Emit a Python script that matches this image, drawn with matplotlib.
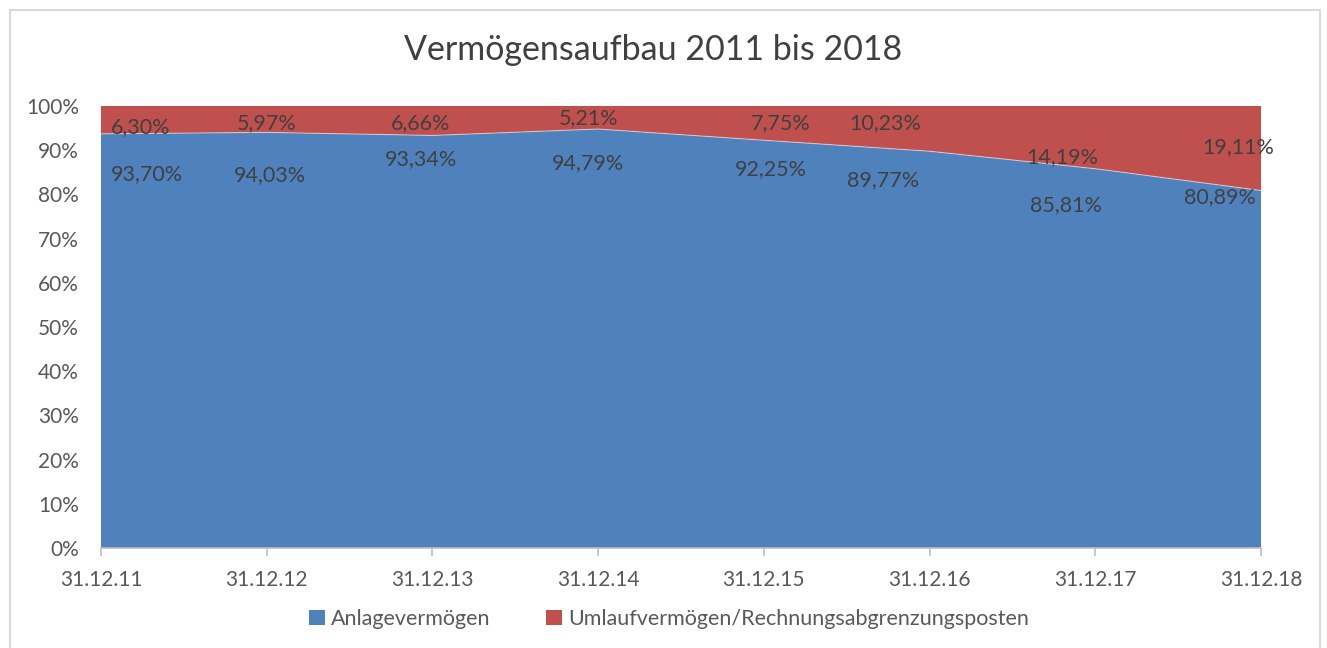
import matplotlib
matplotlib.use("Agg")
import matplotlib.pyplot as plt
from matplotlib.patches import Rectangle, Patch
import numpy as np

plt.rcParams['font.family'] = ['Lato', 'DejaVu Sans']

# ---- data ----
categories = ["31.12.11", "31.12.12", "31.12.13", "31.12.14",
              "31.12.15", "31.12.16", "31.12.17", "31.12.18"]
anlage = [93.70, 94.03, 93.34, 94.79, 92.25, 89.77, 85.81, 80.89]
umlauf = [6.30, 5.97, 6.66, 5.21, 7.75, 10.23, 14.19, 19.11]
series_names = ["Anlagevermögen", "Umlaufvermögen/Rechnungsabgrenzungsposten"]
title = "Vermögensaufbau 2011 bis 2018"

# ---- layout of data labels (Excel placement, in data units) ----
anlage_lbl_x = [0.28, 1.02, 1.93, 2.94, 4.04, 4.72, 5.82, 6.75]
anlage_lbl_y = [84.6, 84.4, 88.0, 87.1, 85.7, 83.3, 77.6, 79.4]
umlauf_lbl_x = [0.24, 1.00, 1.93, 2.94, 4.10, 4.73, 5.80, 6.86]
umlauf_lbl_y = [95.2, 96.2, 96.2, 97.3, 96.2, 96.2, 88.5, 90.7]

blue = "#4F81BD"
red = "#C0504D"
txt = "#404040"
tick_c = "#595959"

fig = plt.figure(figsize=(13.27, 6.48), dpi=100)
fig.patches.append(Rectangle((10/1327, -0.05), 1310/1327, 1 - 10/648 + 0.05,
                             transform=fig.transFigure, fill=False,
                             edgecolor="#D9D9D9", linewidth=1.5))

ax = fig.add_axes([101/1327, 1 - 548/648, 1160/1327, 442/648])
x = np.arange(len(categories))
ax.stackplot(x, anlage, umlauf, colors=[blue, red], linewidth=0)
ax.plot(x, anlage, color="white", lw=0.8, alpha=0.5)

ax.set_xlim(0, len(categories) - 1)
ax.set_ylim(0, 100)
ax.set_yticks(np.arange(0, 101, 10))
ax.set_yticklabels([f"{v}%" for v in range(0, 101, 10)])
ax.set_xticks(x)
ax.set_xticklabels(categories)

for s in ["top", "right", "left"]:
    ax.spines[s].set_visible(False)
ax.spines["bottom"].set_color("#BFBFBF")
ax.spines["bottom"].set_linewidth(1.2)
ax.tick_params(axis="y", length=0, pad=16, labelsize=15, labelcolor=tick_c)
ax.tick_params(axis="x", length=6, width=1.2, color="#BFBFBF", direction="out",
               pad=10, labelsize=15, labelcolor=tick_c)

def fmt(v):
    return f"{v:.2f}".replace(".", ",") + "%"

for i in range(len(categories)):
    ax.text(anlage_lbl_x[i], anlage_lbl_y[i], fmt(anlage[i]), ha="center", va="center",
            fontsize=15.5, color=txt, clip_on=False)
    ax.text(umlauf_lbl_x[i], umlauf_lbl_y[i], fmt(umlauf[i]), ha="center", va="center",
            fontsize=15.5, color=txt, clip_on=False)

fig.text(653/1327, 1 - 50/648, title, ha="center", va="center", fontsize=24.5, color=txt)

handles = [Patch(facecolor=blue, edgecolor="none"), Patch(facecolor=red, edgecolor="none")]
leg = fig.legend(handles, series_names, loc="center", bbox_to_anchor=(669/1327, 1 - 619/648),
                 ncol=2, frameon=False, fontsize=15.5, handlelength=0.75, handleheight=0.75,
                 handletextpad=0.25, columnspacing=2.6)
for t in leg.get_texts():
    t.set_color(tick_c)

fig.savefig("out.png", dpi=100)
